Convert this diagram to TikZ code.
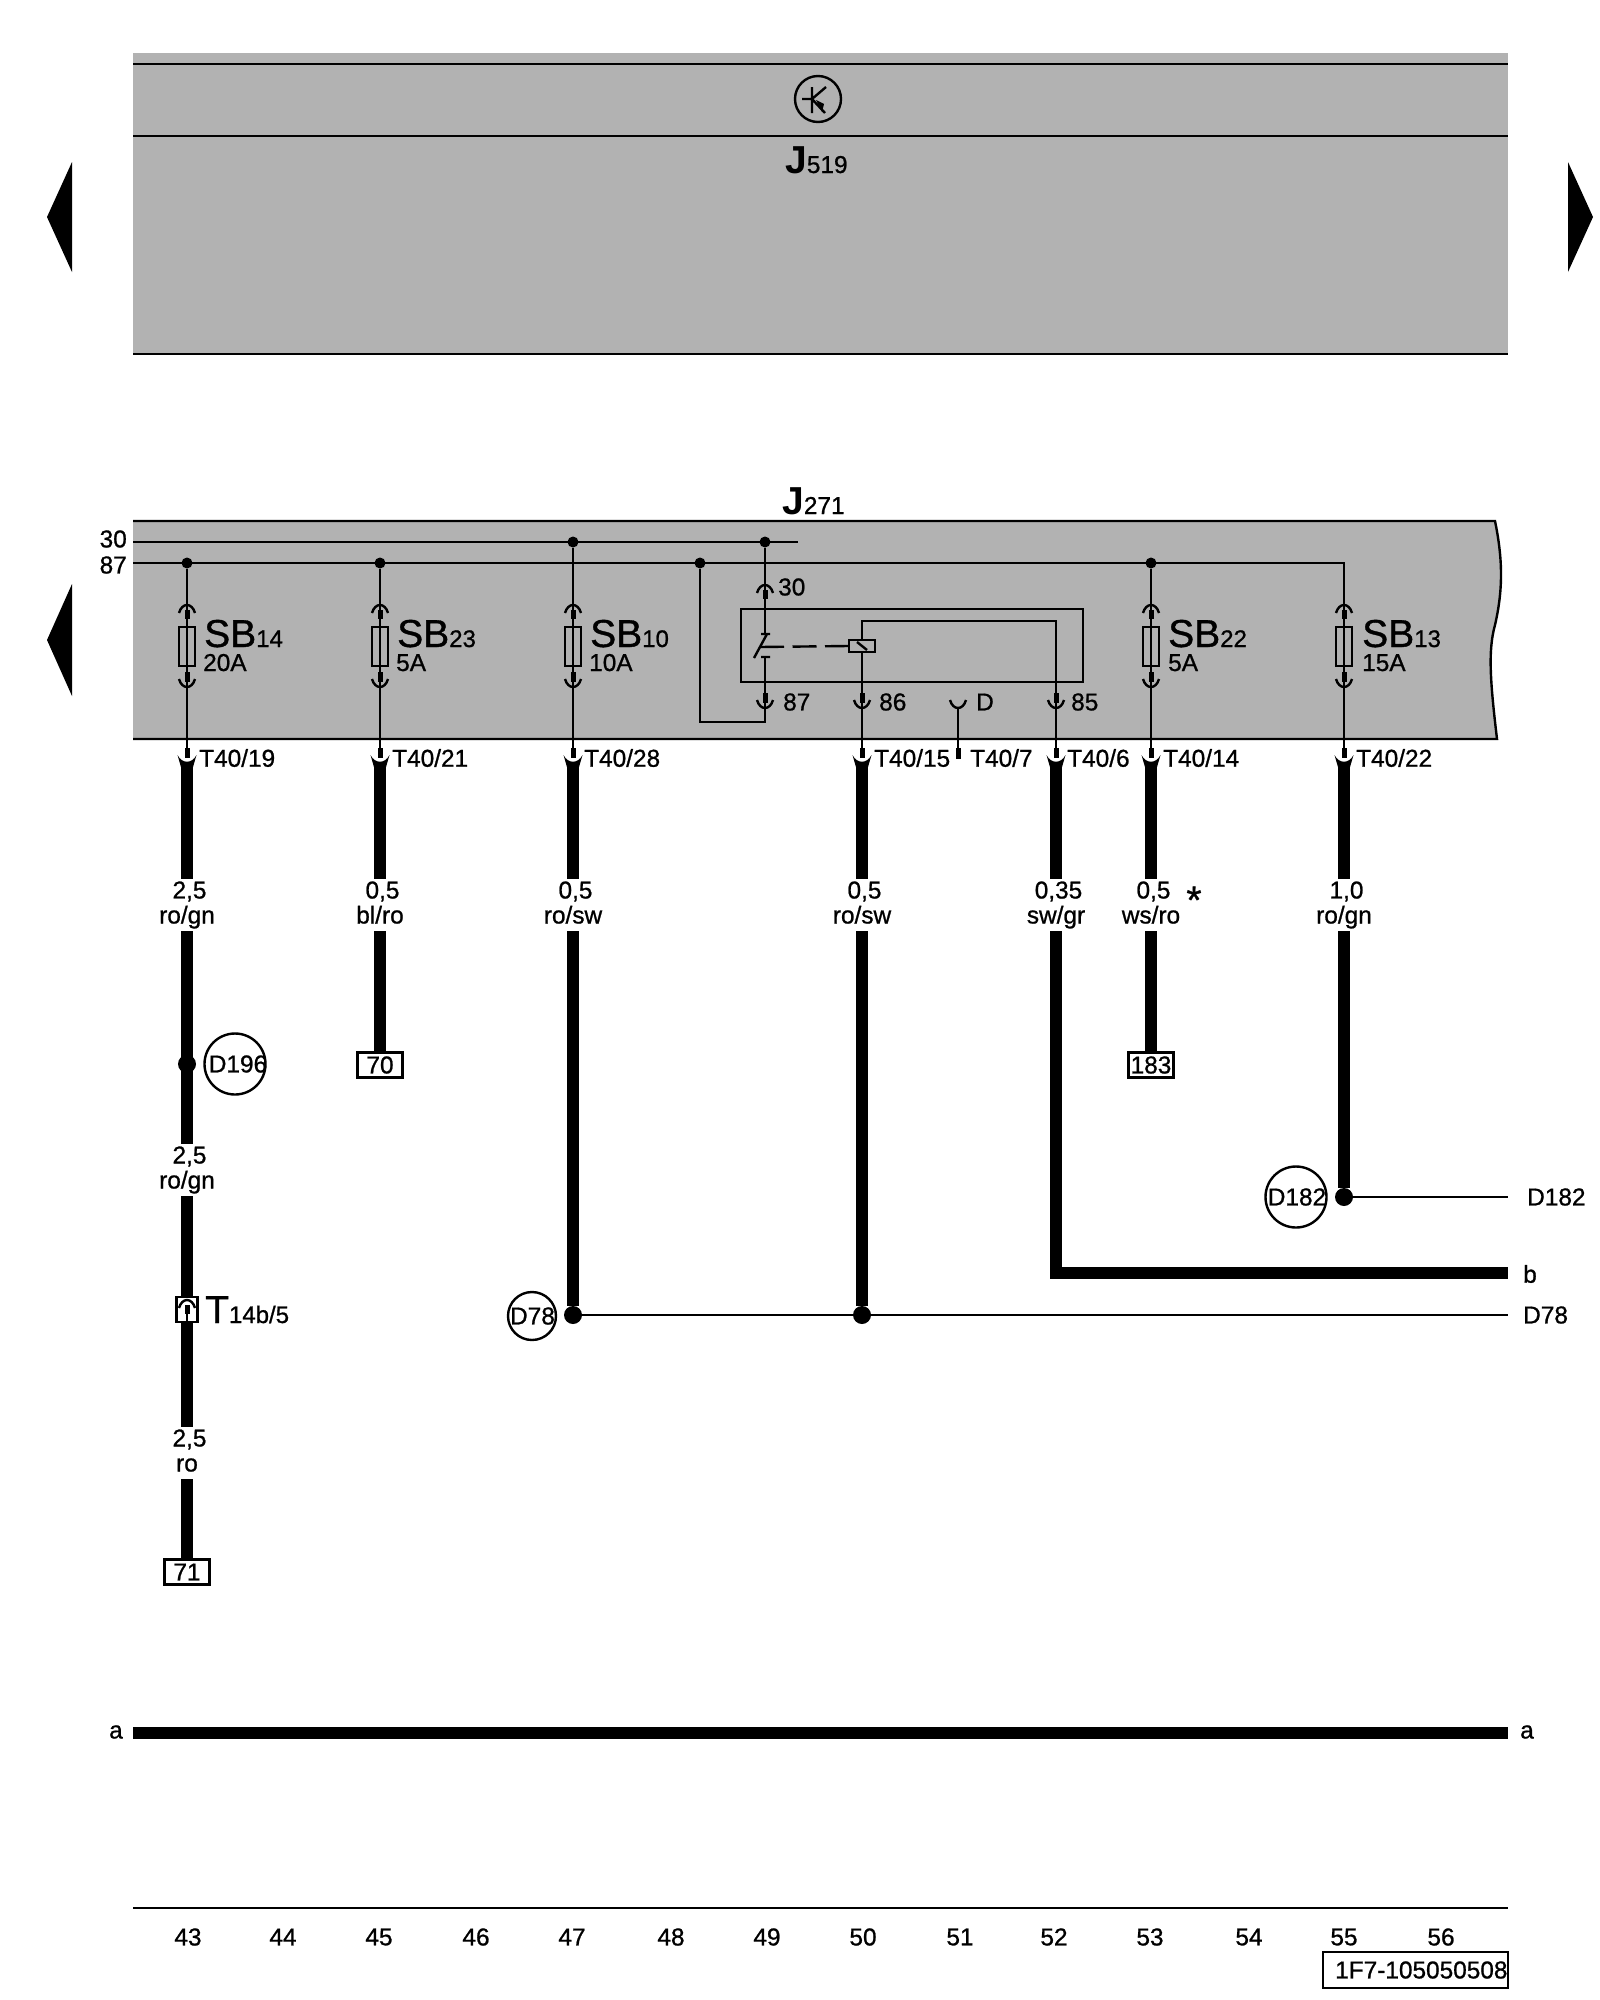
\documentclass[tikz,border=0pt]{standalone}
\usepackage{fontspec}
\setmainfont{Liberation Sans}[FakeBold=0.9]
\newfontfamily\jfont{Liberation Sans Bold}
\usetikzlibrary{positioning}
\definecolor{bandgray}{HTML}{B2B2B2}
\newcommand{\lab}{\fontsize{24.4}{25}\selectfont}
\newcommand{\biglab}{\fontsize{39}{40}\selectfont}
\newcommand{\mainpart}[2]{{\biglab\jfont #1}{\fontsize{24.4}{25}\selectfont #2}}
\newcommand{\sbpart}[2]{{\biglab #1}{\fontsize{24}{25}\selectfont #2}}
\newcommand{\gval}[1]{\hspace*{5pt}#1}
\newcommand{\gtype}[1]{#1\vphantom{g}}
\newcommand{\overtext}[2][0pt]{\makebox[0pt][c]{\hspace*{#1}#2}}
\tikzset{
  every node/.style={font=\lab,inner sep=0pt},
  wire/.style={draw=black,line width=2.4pt},
  fatwire/.style={draw=black,line width=11.5pt},
  dot/.style={circle,fill=black,minimum size=11pt},
  bigdot/.style={circle,fill=black,minimum size=18pt},
  gauge/.style={align=center,minimum height=52pt,minimum width=12pt},
  refbox/.style={rectangle,draw=black,line width=2.4pt,minimum width=45pt,minimum height=25pt},
  refcircle/.style={circle,draw=black,line width=2.4pt},
  sbname/.style={anchor=base west},
  pin/.style={anchor=west},
  sockup/.pic={
    \draw[wire] (-8,8) .. controls (-5,-2.67) and (5,-2.67) .. (8,8);
    \fill (-2.5,5) rectangle (2.5,14);
  },
  sockdown/.pic={
    \draw[wire] (-8,-8) .. controls (-5,2.67) and (5,2.67) .. (8,-8);
    \fill (-2.5,-15) rectangle (2.5,-5);
  },
  sockopen/.pic={
    \draw[wire] (-8,-8) .. controls (-5,2.67) and (5,2.67) .. (8,-8);
  },
  tplug/.pic={
    \fill (-2.5,-14) rectangle (2.5,-4);
    \fill (-9.5,-7) .. controls (-5,2) and (5,2) .. (9.5,-7) -- (5.75,6) -- (-5.75,6) -- cycle;
  },
  fusebox/.pic={
    \draw[wire] (-8,-19.5) rectangle (8,19.5);
  },
}
\begin{document}
\begin{tikzpicture}[x=1pt,y=-1pt]
\useasboundingbox (0,0) rectangle (1600,2000);
\fill[bandgray] (133,53) rectangle (1508,354);
\draw[wire] (133,64) -- (1508,64) (133,136) -- (1508,136) (133,354) -- (1508,354);
\fill (72,162) -- (47,217) -- (72,272) -- cycle;
\fill (1568,162) -- (1593,217) -- (1568,272) -- cycle;
\fill (72,584) -- (47,640) -- (72,696) -- cycle;
\path (818,99) node[refcircle,minimum size=46pt] (tran) {};
\draw[wire] (802,99) -- (812,99) (812,87) -- (812,113) (812,99) -- (826,87) (812,99) -- (825,113);
\fill (816,100) -- (824,104) -- (822,112) -- cycle;
\path (785,173) node[sbname] (j519) {\mainpart{J}{519}};
\fill[bandgray] (133,521) -- (1495,521) .. controls (1503,560) and (1503,590) .. (1495,625)
  .. controls (1488,650) and (1490,680) .. (1497,739) -- (133,739) -- cycle;
\draw[wire] (133,521) -- (1495,521) .. controls (1503,560) and (1503,590) .. (1495,625)
  .. controls (1488,650) and (1490,680) .. (1497,739) -- (133,739);
\path (782,514) node[sbname] (j271) {\mainpart{J}{271}};

\coordinate (bus30) at (133,542);
\coordinate (end30) at (798,542);
\coordinate (bus87) at (133,563);
\path (127,539) node[anchor=east] (n30) {30};
\path (127,565) node[anchor=east] (n87) {87};
\path (187,563) node[dot] (dot14) {}
(380,563) node[dot] (dot23) {}
(573,542) node[dot] (dot10) {}
(700,563) node[dot] (dotk) {}
(765,542) node[dot] (dot30) {}
(1151,563) node[dot] (dot22) {};
\coordinate (t19) at (187,748);
\coordinate (t21) at (380,748);
\coordinate (t28) at (573,748);
\coordinate (t15) at (862,748);
\coordinate (t7) at (958,748);
\coordinate (t6) at (1056,748);
\coordinate (t14) at (1151,748);
\coordinate (t22) at (1344,748);
\draw[wire] (bus30) -- (end30);
\draw[wire] (bus87) -| (t22);
\draw[wire] (dot14) -- (t19);
\draw[wire] (dot23) -- (t21);
\draw[wire] (dot10) -- (t28);
\draw[wire] (dot22) -- (t14);

\path (187,605) pic {sockup} (187,646.5) pic {fusebox} (187,687) pic {sockdown} (187,762) pic {tplug};
\path (380,605) pic {sockup} (380,646.5) pic {fusebox} (380,687) pic {sockdown} (380,762) pic {tplug};
\path (573,605) pic {sockup} (573,646.5) pic {fusebox} (573,687) pic {sockdown} (573,762) pic {tplug};
\path (1151,605) pic {sockup} (1151,646.5) pic {fusebox} (1151,687) pic {sockdown} (1151,762) pic {tplug};
\path (1344,605) pic {sockup} (1344,646.5) pic {fusebox} (1344,687) pic {sockdown} (1344,762) pic {tplug};
\path (204,647) node[sbname] (sb14) {\sbpart{SB}{14}}
(397,647) node[sbname] (sb23) {\sbpart{SB}{23}}
(590,647) node[sbname] (sb10) {\sbpart{SB}{10}}
(1168,647) node[sbname] (sb22) {\sbpart{SB}{22}}
(1362,647) node[sbname] (sb13) {\sbpart{SB}{13}};
\path (203,671) node[sbname] (a14) {20A}
(396,671) node[sbname] (a23) {5A}
(589,671) node[sbname] (a10) {10A}
(1168,671) node[sbname] (a22) {5A}
(1362,671) node[sbname] (a13) {15A};

\draw[wire] (741,609) rectangle (1083,682);
\path (862,646) node[rectangle,draw=black,line width=2.4pt,minimum width=26pt,minimum height=12pt] (coil) {};
\draw[wire] (857,642) -- (867,650);
\coordinate (up85) at (1056,621);
\draw[wire] (coil.north) |- (up85) -- (t6);
\draw[wire] (coil.south) -- (t15);
\coordinate (topc) at (765,634);
\coordinate (botc) at (765,657);
\coordinate (low87) at (765,722);
\draw[wire] (dot30) -- (topc);
\draw[wire] (botc) -- (low87) -| (dotk);
\draw[wire] (761,634) -- (770,634) (761,657) -- (770,657) (754,658) -- (767,634);
\draw[wire,dash pattern=on 24pt off 8.5pt] (760,647) -- (coil.west);
\coordinate (sockd) at (958,708);
\draw[wire] (sockd) -- (t7);
\path (765,585) pic {sockup} (765,708) pic {sockdown} (862,708) pic {sockdown}
(958,708) pic {sockopen} (1056,708) pic {sockdown} (862,762) pic {tplug} (1056,762) pic {tplug};
\fill (955.5,748) rectangle (960.5,759);
\path (778,587) node[pin] (p30) {30}
(783,702) node[pin] (p87) {87}
(879,702) node[pin] (p86) {86}
(976,702) node[pin] (pd) {D}
(1071,702) node[pin] (p85) {85};

\path (199,758) node[pin] (l19) {T40/19}
(392,758) node[pin] (l21) {T40/21}
(584,758) node[pin] (l28) {T40/28}
(874,758) node[pin] (l15) {T40/15}
(970,758) node[pin] (l7) {T40/7}
(1067,758) node[pin] (l6) {T40/6}
(1163,758) node[pin] (l14) {T40/14}
(1356,758) node[pin] (l22) {T40/22};

\coordinate (w19) at (187,766);
\coordinate (w21) at (380,766);
\coordinate (w28) at (573,766);
\coordinate (w15) at (862,766);
\coordinate (w6) at (1056,766);
\coordinate (w14) at (1151,766);
\coordinate (w22) at (1344,766);
\path (187,905) node[gauge] (g19a) {\gval{2,5}\\ro/gn}
(380,905) node[gauge] (g21) {\gval{0,5}\\\gtype{bl/ro}}
(573,905) node[gauge] (g28) {\gval{0,5}\\\gtype{ro/sw}}
(862,905) node[gauge] (g15) {\gval{0,5}\\\gtype{ro/sw}}
(1056,905) node[gauge] (g6) {\gval{0,35}\\sw/gr}
(1151,905) node[gauge] (g14) {\gval{0,5}\\\gtype{ws/ro}}
(1344,905) node[gauge] (g22) {\gval{1,0}\\ro/gn}
(187,1170) node[gauge] (g19b) {\gval{2,5}\\ro/gn}
(187,1453) node[gauge] (g19c) {\gval{2,5}\\\gtype{ro}};
\path (1194,900) node[font=\biglab] (star) {*};

\path (187,1064) node[bigdot] (dot196) {}
(235,1064) node[refcircle,minimum size=61pt] (c196) {\overtext[6pt]{D196}}
(380,1065) node[refbox] (box70) {70}
(1151,1065) node[refbox] (box183) {183}
(187,1572) node[refbox] (box71) {71}
(187,1309.5) node[rectangle,draw=black,line width=2.4pt,fill=white,minimum width=21pt,minimum height=25pt] (t14b) {}
(573,1315) node[bigdot] (dot78) {}
(862,1315) node[bigdot] (dot78b) {}
(532,1316) node[refcircle,minimum size=48pt] (c78) {\overtext[1pt]{D78}}
(1344,1197) node[bigdot] (dot182) {}
(1296,1197) node[refcircle,minimum size=61pt] (c182) {\overtext[2pt]{D182}};
\path (205,1323) node[sbname] (l14b) {\sbpart{T}{14b/5}};

\draw[fatwire] (w19) -- (g19a);
\draw[fatwire] (g19a) -- (g19b);
\draw[fatwire] (g19b) -- (t14b);
\draw[fatwire] (t14b) -- (g19c);
\draw[fatwire] (g19c) -- (box71);
\draw[fatwire] (w21) -- (g21);
\draw[fatwire] (g21) -- (box70);
\draw[fatwire] (w28) -- (g28);
\draw[fatwire] (g28) -- (dot78);
\draw[fatwire] (w15) -- (g15);
\draw[fatwire] (g15) -- (dot78b);
\draw[fatwire] (w6) -- (g6);
\coordinate (bend) at (1056,1273);
\coordinate (endb) at (1508,1273);
\draw[fatwire] (g6) -- (bend) -- (endb);
\draw[fatwire] (w14) -- (g14);
\draw[fatwire] (g14) -- (box183);
\draw[fatwire] (w22) -- (g22);
\draw[fatwire] (g22) -- (dot182);
\coordinate (end182) at (1508,1197);
\coordinate (end78) at (1508,1315);
\draw[wire] (dot182) -- (end182);
\draw[wire] (dot78) -- (dot78b) -- (end78);
\path (187,1300) pic {sockup};
\draw[wire] (187,1306) -- (187,1321);
\path (1527,1197) node[pin] (n182) {D182}
(1523,1315) node[pin] (n78) {D78}
(1530,1274) node (nb) {b};

\coordinate (aleft) at (133,1733);
\coordinate (aright) at (1508,1733);
\draw[fatwire] (aleft) -- (aright);
\path (116,1732) node (na) {a}
(1527,1732) node (nar) {a};

\coordinate (ruleleft) at (133,1908);
\coordinate (ruleright) at (1508,1908);
\draw[wire] (ruleleft) -- (ruleright);
\path (188,1937) node (c43) {43}
(283,1937) node (c44) {44}
(379,1937) node (c45) {45}
(476,1937) node (c46) {46}
(572,1937) node (c47) {47}
(671,1937) node (c48) {48}
(767,1937) node (c49) {49}
(863,1937) node (c50) {50}
(960,1937) node (c51) {51}
(1054,1937) node (c52) {52}
(1150,1937) node (c53) {53}
(1249,1937) node (c54) {54}
(1344,1937) node (c55) {55}
(1441,1937) node (c56) {56};
\draw[wire] (1323,1952) rectangle (1508,1988);
\path (1335,1970) node[pin] (code) {1F7-105050508};
\end{tikzpicture}
\end{document}
